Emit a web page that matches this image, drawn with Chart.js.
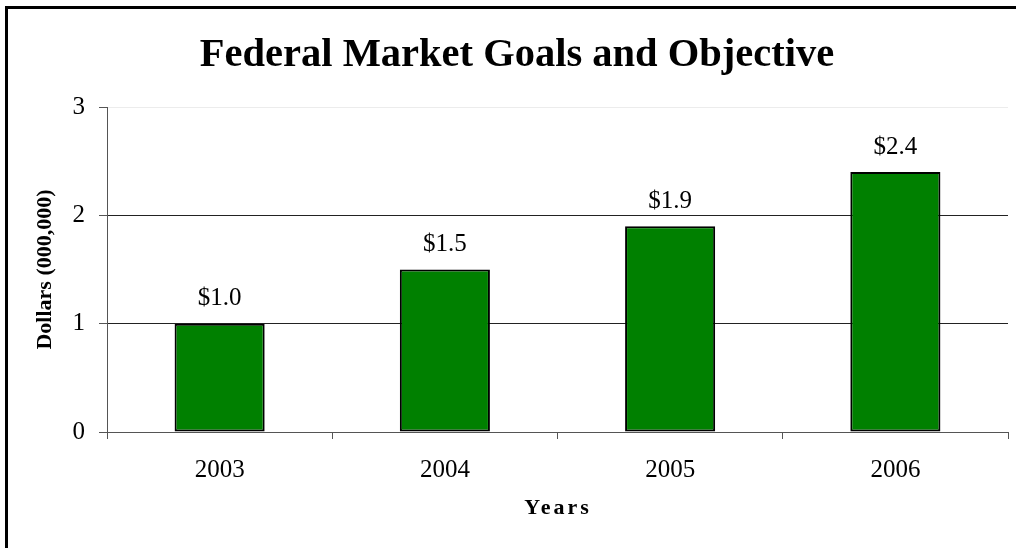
<!DOCTYPE html>
<html>
<head>
<meta charset="utf-8">
<script src="https://cdn.jsdelivr.net/npm/chart.js@4/dist/chart.umd.min.js"></script>
<style>
  html, body { margin: 0; padding: 0; background: #fff; }
  #wrap { width: 1016px; height: 548px; position: relative; }
</style>
</head>
<body>
<div id="wrap"><canvas id="c" width="1016" height="548"></canvas></div>
<script>
const categories = ['2003', '2004', '2005', '2006'];
const values = [1.0, 1.5, 1.9, 2.4];
const yTicks = [0, 1, 2, 3];
const titleText = 'Federal Market Goals and Objective';
const xTitle = 'Years';
const yTitle = 'Dollars (000,000)';

const SERIF = "'Liberation Serif', 'Times New Roman', serif";

const framePlugin = {
  id: 'frame',
  beforeDraw(chart) {
    const ctx = chart.ctx;
    ctx.save();
    ctx.fillStyle = '#fff';
    ctx.fillRect(0, 0, chart.width, chart.height);
    ctx.restore();
  },
  afterDraw(chart) {
    const ctx = chart.ctx;
    ctx.save();
    ctx.fillStyle = '#000';
    ctx.fillRect(5, 6, 3, chart.height);
    ctx.fillRect(5, 6, chart.width, 3);
    // title
    ctx.font = 'bold 40.5px ' + SERIF;
    ctx.textAlign = 'center';
    ctx.textBaseline = 'middle';
    ctx.fillText(titleText, 517, 56);
    // x title with letter spacing
    ctx.font = 'bold 22px ' + SERIF;
    try { ctx.letterSpacing = '3px'; } catch (e) {}
    ctx.fillText(xTitle, 558, 508);
    try { ctx.letterSpacing = '0px'; } catch (e) {}
    // data labels
    const meta = chart.getDatasetMeta(0);
    ctx.font = '25px ' + SERIF;
    ctx.textBaseline = 'middle';
    meta.data.forEach((bar, i) => {
      ctx.fillText('$' + values[i].toFixed(1), bar.x, bar.y - 25);
    });
    ctx.restore();
  }
};

new Chart(document.getElementById('c'), {
  type: 'bar',
  data: {
    labels: categories,
    datasets: [{
      data: values,
      backgroundColor: '#008000',
      borderColor: '#000',
      borderWidth: 2,
      borderSkipped: false,
      barPercentage: 0.4,
      categoryPercentage: 1.0
    }]
  },
  options: {
    responsive: false,
    animation: false,
    devicePixelRatio: 1,
    layout: { padding: { left: 0, top: 107, right: 8, bottom: 0 } },
    plugins: {
      legend: { display: false },
      title: { display: false },
      tooltip: { enabled: false }
    },
    scales: {
      x: {
        afterFit(s) { s.height = 116; },
        grid: {
          drawOnChartArea: false,
          drawTicks: true,
          tickLength: 7,
          tickColor: '#555',
          offset: true
        },
        border: { color: '#555', width: 1 },
        ticks: {
          color: '#000',
          font: { family: SERIF, size: 25 },
          padding: 16
        }
      },
      y: {
        min: 0,
        max: 3,
        afterFit(s) { s.width = 107; },
        afterBuildTicks(s) { s.ticks = yTicks.map(v => ({ value: v })); },
        grid: {
          color: ctx => (ctx.tick && ctx.tick.value === 3) ? '#ececec' : (ctx.tick && ctx.tick.value === 0 ? 'rgba(0,0,0,0)' : '#222'),
          tickColor: '#555',
          tickLength: 8,
          drawTicks: true
        },
        border: { color: '#555', width: 1 },
        ticks: {
          color: '#000',
          font: { family: SERIF, size: 25 },
          padding: 14,
          callback: v => String(v)
        },
        title: {
          display: true,
          text: yTitle,
          color: '#000',
          font: { family: SERIF, size: 22, weight: 'bold' },
          padding: { top: 32, bottom: 0 }
        }
      }
    }
  },
  plugins: [framePlugin]
});
</script>
</body>
</html>
